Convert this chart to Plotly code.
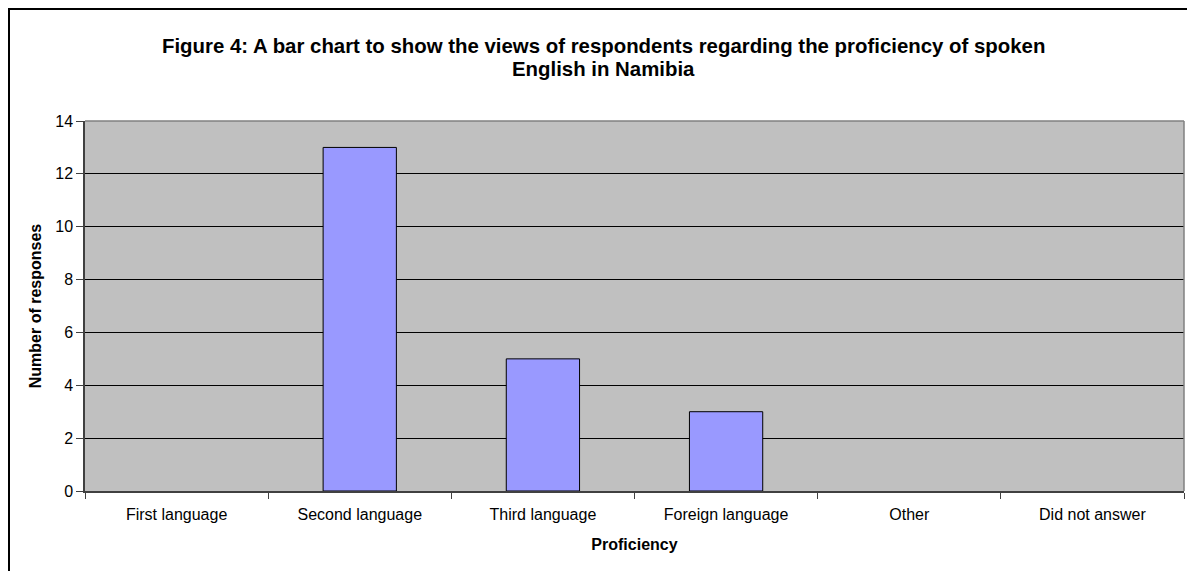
import plotly.graph_objects as go

categories = ["First language", "Second language", "Third language",
              "Foreign language", "Other", "Did not answer"]
values = [0, 13, 5, 3, 0, 0]
y_ticks = [0, 2, 4, 6, 8, 10, 12, 14]

title_line1 = "Figure 4: A bar chart to show the views of respondents regarding the proficiency of spoken"
title_line2 = "English in Namibia"

W, H = 1187, 563
L, R, T, B = 77, 11, 113, 80
pw, ph = W - L - R, H - T - B

def px(x):
    return (x - L) / pw

def py(y):
    return (H - B - y) / ph

fig = go.Figure()
fig.add_trace(go.Bar(
    x=categories, y=values,
    marker=dict(color="#9999FF",
                line=dict(color="#000000", width=[1 if v else 0 for v in values])),
    width=0.4,
))

font = "Liberation Sans, Arial, sans-serif"
fig.update_layout(
    width=W, height=H,
    margin=dict(l=L, r=R, t=T, b=B),
    paper_bgcolor="white",
    plot_bgcolor="#C0C0C0",
    font=dict(family=font, size=16, color="#000000"),
    showlegend=False,
    xaxis=dict(
        type="category", tickson="boundaries", ticks="outside", ticklen=6,
        tickcolor="#404040", showline=True, linecolor="#404040", linewidth=1.5,
        mirror=False, showgrid=False, ticklabelstandoff=8,
        title=dict(text="<b>Proficiency</b>", font=dict(size=16), standoff=17),
        tickfont=dict(size=16),
    ),
    yaxis=dict(
        range=[0, 14], tickvals=y_ticks, ticks="outside", ticklen=7,
        tickcolor="#404040", showline=True, linecolor="#404040", linewidth=1.5,
        showgrid=True, gridcolor="#000000", gridwidth=1, zeroline=False,
        title=dict(text="<b>Number of responses</b>", font=dict(size=16), standoff=10),
        tickfont=dict(size=16),
    ),
    annotations=[
        dict(text="<b>" + title_line1 + "</b>", xref="paper", yref="paper",
             x=px(595), y=py(38), xanchor="center", yanchor="middle", showarrow=False,
             font=dict(family=font, size=20.4, color="#000000")),
        dict(text="<b>" + title_line2 + "</b>", xref="paper", yref="paper",
             x=px(595), y=py(61), xanchor="center", yanchor="middle", showarrow=False,
             font=dict(family=font, size=20.4, color="#000000")),
    ],
    shapes=[
        dict(type="line", xref="paper", yref="paper", x0=1, x1=1, y0=0, y1=1,
             line=dict(color="#808080", width=1.5)),
        dict(type="line", xref="paper", yref="paper", x0=0, x1=1, y0=1, y1=1,
             line=dict(color="#808080", width=1.5)),
        dict(type="line", xref="paper", yref="paper", x0=px(1), x1=px(1), y0=py(0), y1=py(H + 5),
             line=dict(color="#000000", width=2)),
        dict(type="line", xref="paper", yref="paper", x0=px(0), x1=px(W + 5), y0=py(1), y1=py(1),
             line=dict(color="#000000", width=2)),
    ],
)

fig.write_html("out.html")
